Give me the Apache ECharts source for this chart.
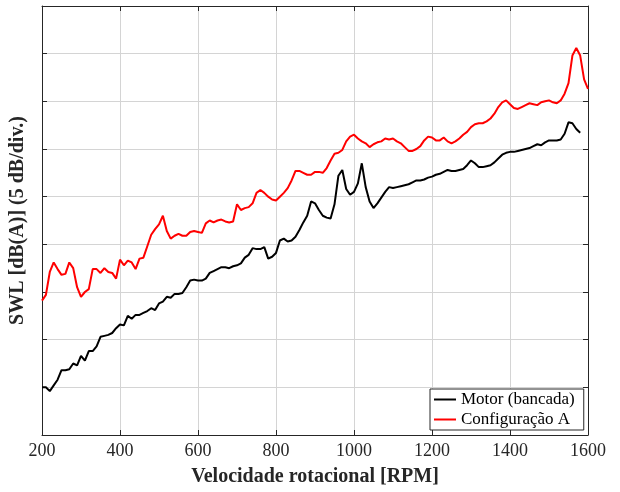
<!DOCTYPE html>
<html>
<head>
<meta charset="utf-8">
<script src="https://cdn.jsdelivr.net/npm/echarts@6/dist/echarts.min.js"></script>
<style>html,body{margin:0;padding:0;background:#fff}#c{width:620px;height:492px}</style>
</head>
<body>
<div id="c"></div>
<script>
// RPM values (10 RPM steps)
const rpm = [];
for (let r = 200; r <= 1600; r += 10) rpm.push(r);

const xTicks = [200, 400, 600, 800, 1000, 1200, 1400, 1600];

// Relative SWL values (dB, 5 dB per division)
const motorBancada = [
  5.0, 5.0, 4.6, 5.2, 5.8, 6.8, 6.8, 6.9, 7.5, 7.3,
  8.3, 7.8, 8.8, 8.8, 9.3, 10.3, 10.4, 10.5, 10.7, 11.2,
  11.6, 11.5, 12.5, 12.2, 12.6, 12.6, 12.8, 13.0, 13.3, 13.1,
  13.8, 14.0, 14.5, 14.4, 14.8, 14.8, 14.9, 15.5, 16.2, 16.3,
  16.2, 16.2, 16.4, 17.0, 17.2, 17.4, 17.6, 17.6, 17.5, 17.7,
  17.8, 18.0, 18.6, 18.9, 19.6, 19.5, 19.5, 19.7, 18.5, 18.7,
  19.1, 20.4, 20.6, 20.3, 20.4, 20.8, 21.5, 22.3, 23.0, 24.5,
  24.3, 23.6, 23.0, 22.8, 22.7, 24.2, 27.2, 27.8, 25.8, 25.2,
  25.5, 26.4, 28.5, 26.0, 24.5, 23.8, 24.3, 24.9, 25.5, 26.0,
  25.9, 26.0, 26.1, 26.2, 26.3, 26.5, 26.7, 26.7, 26.8, 27.0,
  27.1, 27.3, 27.4, 27.6, 27.8, 27.7, 27.7, 27.8, 27.9, 28.3,
  28.8, 28.5, 28.1, 28.1, 28.2, 28.3, 28.6, 29.0, 29.4, 29.6,
  29.7, 29.7, 29.8, 29.9, 30.0, 30.1, 30.3, 30.5, 30.4, 30.7,
  30.9, 30.9, 30.9, 31.0, 31.6, 32.8, 32.7, 32.1, 31.7, null,
  null
];

const configuracaoA = [
  14.1, 14.7, 17.1, 18.1, 17.4, 16.8, 16.9, 18.1, 17.5, 15.5,
  14.5, 15.0, 15.3, 17.4, 17.4, 17.0, 17.5, 17.1, 17.0, 16.4,
  18.4, 17.8, 18.3, 18.1, 17.4, 18.5, 18.6, 19.8, 21.0, 21.6,
  22.1, 23.0, 21.4, 20.6, 20.9, 21.1, 20.9, 20.9, 21.3, 21.4,
  21.3, 21.2, 22.2, 22.5, 22.3, 22.5, 22.6, 22.4, 22.3, 22.4,
  24.2, 23.6, 23.8, 23.9, 24.3, 25.4, 25.7, 25.4, 25.0, 24.7,
  24.6, 25.0, 25.4, 25.9, 26.7, 27.7, 27.7, 27.5, 27.3, 27.3,
  27.6, 27.6, 27.5, 28.0, 28.8, 29.5, 29.6, 29.9, 30.8, 31.3,
  31.5, 31.1, 30.8, 30.6, 30.2, 30.5, 30.7, 30.8, 31.1, 31.0,
  31.1, 30.8, 30.6, 30.2, 29.8, 29.8, 30.0, 30.3, 30.9, 31.3,
  31.2, 30.9, 30.9, 31.2, 30.8, 30.6, 30.8, 31.1, 31.5, 31.8,
  32.3, 32.6, 32.7, 32.7, 32.9, 33.2, 33.7, 34.4, 34.9, 35.1,
  34.7, 34.3, 34.2, 34.4, 34.6, 34.8, 34.7, 34.6, 34.9, 35.0,
  35.1, 34.9, 34.8, 35.1, 35.8, 36.9, 39.8, 40.6, 39.8, 37.3,
  36.3
];

const seriesNames = ['Motor (bancada)', 'Configuração A'];
const xTitle = 'Velocidade rotacional [RPM]';
const yTitle = 'SWL [dB(A)] (5 dB/div.)';

const serif = '"Liberation Serif", "Times New Roman", serif';
const axisColor = '#262626';
const gridColor = '#d4d4d4';

const chart = echarts.init(document.getElementById('c'), null, {renderer: 'canvas'});

function pairs(ys) { return rpm.map((r, i) => [r, ys[i]]); }

const xBase = {
  type: 'value', min: 200, max: 1600, interval: 200,
  axisLine: {show: true, onZero: false, lineStyle: {color: axisColor, width: 1}},
  axisTick: {show: true, inside: true, length: 5, lineStyle: {color: axisColor}},
  splitLine: {show: false}
};
const yBase = {
  type: 'value', min: 0, max: 45, interval: 5,
  axisLine: {show: true, onZero: false, lineStyle: {color: axisColor, width: 1}},
  axisTick: {show: true, inside: true, length: 5, lineStyle: {color: axisColor}},
  axisLabel: {show: false},
  splitLine: {show: false}
};

chart.setOption({
  animation: false,
  backgroundColor: '#ffffff',
  grid: {left: 42, right: 32, top: 6, bottom: 55, containLabel: false},
  xAxis: [
    Object.assign({}, xBase, {
      position: 'bottom',
      splitLine: {show: true, lineStyle: {color: gridColor, width: 1}},
      axisLabel: {show: true, color: '#262626', fontFamily: serif, fontSize: 18, margin: 7,
        formatter: v => xTicks.includes(v) ? String(v) : ''},
      name: xTitle, nameLocation: 'middle', nameGap: 32,
      nameTextStyle: {fontFamily: serif, fontSize: 20, fontWeight: 'bold', color: '#262626'}
    }),
    Object.assign({}, xBase, {position: 'top', axisLabel: {show: false}})
  ],
  yAxis: [
    Object.assign({}, yBase, {
      position: 'left',
      splitLine: {show: true, lineStyle: {color: gridColor, width: 1}},
      name: yTitle, nameLocation: 'middle', nameGap: 14,
      nameTextStyle: {fontFamily: serif, fontSize: 20, fontWeight: 'bold', color: '#262626'}
    }),
    Object.assign({}, yBase, {position: 'right'})
  ],
  legend: {
    orient: 'vertical',
    left: 430, top: 389,
    data: seriesNames.map(n => ({name: n, icon: 'rect'})),
    backgroundColor: '#ffffff',
    borderColor: '#262626', borderWidth: 1, borderRadius: 0,
    padding: [2, 9, 2, 4],
    itemWidth: 22, itemHeight: 2, itemGap: 3,
    textStyle: {fontFamily: serif, fontSize: 17, lineHeight: 17, color: '#000'}
  },
  series: [
    {name: seriesNames[0], type: 'line', data: pairs(motorBancada), symbol: 'none',
     lineStyle: {color: '#000000', width: 2}, itemStyle: {color: '#000000'}, z: 3},
    {name: seriesNames[1], type: 'line', data: pairs(configuracaoA), symbol: 'none',
     lineStyle: {color: '#ff0000', width: 2}, itemStyle: {color: '#ff0000'}, z: 4}
  ]
});
</script>
</body>
</html>
